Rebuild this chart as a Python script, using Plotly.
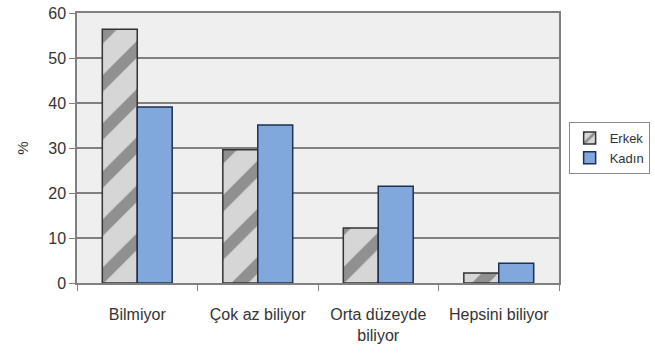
import plotly.graph_objects as go

categories = ["Bilmiyor", "Çok az biliyor", "Orta düzeyde<br>biliyor", "Hepsini biliyor"]
erkek = [56.4, 29.6, 12.2, 2.2]
kadin = [39.1, 35.1, 21.5, 4.4]
y_ticks = [0, 10, 20, 30, 40, 50, 60]

fig = go.Figure()
fig.add_trace(go.Bar(
    x=categories, y=erkek, name="Erkek",
    marker=dict(color="#c8c8c8", line=dict(color="#333333", width=1.5),
                pattern=dict(shape="/", size=34, solidity=0.35, fgcolor="#4a4a4a", bgcolor="#d6d6d6")),
))
fig.add_trace(go.Bar(
    x=categories, y=kadin, name="Kadın",
    marker=dict(color="#80a8dc", line=dict(color="#1f3050", width=1.5)),
))

fig.update_layout(
    width=655, height=354,
    margin=dict(l=77, r=96, t=13, b=71, autoexpand=False),
    paper_bgcolor="white", plot_bgcolor="#efefef",
    barmode="group", bargap=0.42, bargroupgap=0,
    font=dict(family="Liberation Sans, Arial, sans-serif", size=16, color="#333333"),
    legend=dict(x=1.02, y=0.5, xanchor="left", yanchor="middle",
                bordercolor="#888888", borderwidth=1, bgcolor="white",
                font=dict(size=13), itemwidth=30, tracegroupgap=14),
    showlegend=True,
)
fig.update_yaxes(range=[0, 60], tickvals=y_ticks, showgrid=True, gridcolor="#808080", gridwidth=1.5,
                 ticks="outside", ticklen=6, tickcolor="#808080", showline=True, linecolor="#808080",
                 linewidth=1.5, mirror=True, zeroline=False,
                 title=dict(text="%", standoff=16, font=dict(size=15)), fixedrange=True)
fig.update_xaxes(ticks="outside", ticklen=6, tickcolor="#808080", tickson="boundaries",
                 ticklabelstandoff=16,
                 showline=True, linecolor="#808080", linewidth=1.5, mirror=True, fixedrange=True)

fig.write_html("out.html")
